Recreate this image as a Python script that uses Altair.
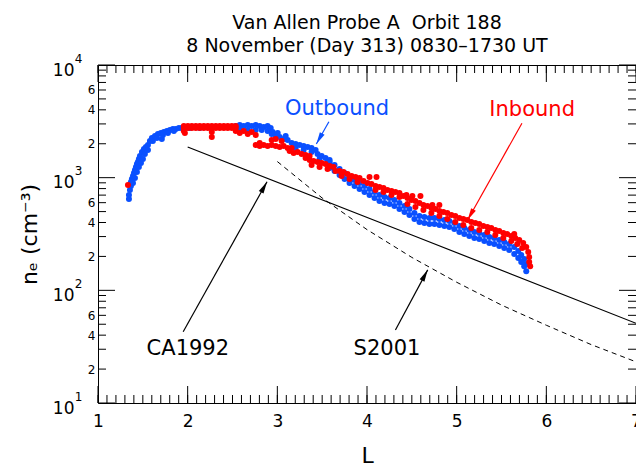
import math
import altair as alt
import pandas as pd

# ---------------- data ----------------
# Outbound (blue) samples: L-shell and electron density (cm^-3)
blue_L = (
    [1.345, 1.345, 1.356, 1.367, 1.367, 1.378, 1.390, 1.401, 1.412, 1.423,
     1.434, 1.445, 1.456, 1.468, 1.490, 1.512, 1.534, 1.557, 1.579, 1.601,
     1.635, 1.668, 1.701, 1.735, 1.768, 1.802, 1.835, 1.868, 1.902, 1.935]
    + [1.390, 1.412, 1.434, 1.456, 1.479, 1.501, 1.523, 1.557, 1.612, 1.657,
       1.712, 1.724, 1.780, 1.846]
    + [2.024, 2.135, 2.247, 2.358, 2.469]
    + [2.536, 2.581, 2.625, 2.670, 2.714, 2.759, 2.803, 2.848, 2.892, 2.926,
       2.581, 2.670, 2.759, 2.826, 2.892, 2.948]
    + [2.937, 2.982, 3.026, 3.071, 3.115, 3.004, 3.093, 3.160, 3.204, 3.249,
       3.293, 3.338, 3.382, 3.204, 3.293, 3.382, 3.427, 3.449, 3.494, 3.538,
       3.583, 3.471, 3.560]
    + [3.583, 3.638, 3.694, 3.750, 3.805, 3.861, 3.917, 3.972, 4.028, 4.084,
       4.139, 4.195, 4.251, 4.306, 4.362, 4.418, 4.473, 4.529, 4.585, 4.640,
       4.696, 4.752, 4.807, 4.863, 4.918, 4.974, 5.030, 5.085, 5.141, 5.197,
       5.252, 5.308, 5.364, 5.419, 5.475, 5.531, 5.586, 5.642, 5.687, 5.720,
       5.753, 5.776]
    + [3.583, 3.638, 3.694, 3.750, 3.805, 3.861, 3.917, 3.972, 4.028, 4.084,
       4.139, 4.195, 4.251, 4.306, 4.362, 4.418, 4.473, 4.529, 4.585, 4.640,
       4.696, 4.752, 4.807, 4.863, 4.918, 4.974, 5.030, 5.085, 5.141, 5.197,
       5.252, 5.308, 5.364, 5.419, 5.475, 5.531, 5.586, 5.642, 5.687, 5.720,
       5.753, 5.776]
)
blue_n = (
    [647, 702, 777, 843, 915, 973, 1034, 1100, 1169, 1243,
     1322, 1377, 1465, 1557, 1690, 1797, 1872, 1950, 2115, 2249,
     2343, 2441, 2492, 2543, 2596, 2649, 2704, 2704, 2759, 2759]
    + [896, 993, 1123, 1243, 1349, 1465, 1622, 1760, 2115, 2249,
       2204, 2392, 2492, 2596]
    + [2759, 2759, 2816, 2816, 2816]
    + [2874, 2934, 2874, 2934, 2874, 2934, 2874, 2816, 2874, 2759,
       2704, 2649, 2649, 2649, 2596, 2543]
    + [2441, 2343, 2296, 2204, 2159, 2492, 2343, 2031, 1990, 1950,
       1910, 1872, 1834, 1834, 1760, 1690, 1760, 1622, 1557, 1495,
       1435, 1465, 1377]
    + [1377, 1295, 1193, 1100, 1013, 953, 896, 843, 793, 746,
       702, 674, 660, 634, 596, 560, 527, 486, 457, 448,
       439, 439, 430, 421, 412, 396, 372, 357, 343, 329,
       323, 310, 297, 291, 280, 269, 258, 242, 223, 206,
       190, 171]
    + [1218, 1146, 1056, 973, 896, 843, 793, 746, 702, 660,
       621, 596, 584, 560, 527, 496, 466, 430, 404, 396,
       388, 388, 380, 372, 365, 350, 329, 316, 304, 291,
       286, 274, 263, 258, 247, 238, 228, 210, 194, 178,
       164, 148]
)

# Inbound (red) samples
red_L = (
    [1.334]
    + [1.957, 2.002, 2.046, 2.091, 2.135, 2.180, 2.225, 2.269, 2.314, 2.358,
       2.403, 2.447, 2.492, 2.536]
    + [1.957, 2.002, 2.046, 2.091, 2.135, 2.180, 2.225, 2.269, 2.314, 2.358,
       2.403, 2.447, 2.492, 2.536]
    + [1.957, 1.969, 2.269, 2.269]
    + [2.536, 2.581, 2.625, 2.670, 2.714, 2.759]
    + [2.759, 2.803, 2.848, 2.892, 2.937, 2.982, 3.026, 3.071, 3.115, 2.803,
       2.937, 2.982, 3.048]
    + [3.137, 3.182, 3.226, 3.271, 3.315, 3.360, 3.160]
    + [3.315, 3.360, 3.404, 3.449, 3.494, 3.538, 3.583, 3.627, 3.382, 3.471,
       3.560, 3.649]
    + [3.694, 3.738, 3.783, 3.828, 3.872, 3.917, 3.716, 3.805, 3.894, 4.028,
       4.106]
    + [3.961, 4.006, 4.050, 4.095, 4.139, 4.184, 4.228, 4.273, 4.317, 4.362,
       4.095, 4.184, 4.273, 4.362]
    + [4.406, 4.451, 4.495, 4.540, 4.585, 4.629, 4.674, 4.718, 4.763, 4.807,
       4.852, 4.896, 4.941, 4.985, 5.030, 5.074, 5.119, 5.163, 5.208, 5.252,
       5.297, 5.342, 5.386, 5.431, 5.475, 5.520, 5.564, 5.609, 5.653, 5.698,
       5.742, 5.776, 5.798, 5.809, 5.809, 5.820]
    + [4.451, 4.540, 4.629, 4.718, 4.807, 4.896, 4.985, 5.074, 5.163, 5.252,
       5.342, 5.431, 5.520, 5.609, 5.676, 5.731]
    + [4.506, 4.596, 4.440, 4.729, 4.807, 5.642]
)
red_n = (
    [860]
    + [2874] * 14
    + [2759] * 14
    + [2596, 2492, 2543, 2296]
    + [2596, 2492, 2596, 2441, 2543, 2392]
    + [1950, 1910, 1950, 1910, 1950, 1910, 1872, 1910, 1834, 2031,
       2159, 2204, 2115]
    + [1725, 1656, 1690, 1622, 1590, 1557, 1834]
    + [1495, 1435, 1406, 1377, 1349, 1322, 1269, 1243, 1295, 1243,
       1193, 1146]
    + [1146, 1123, 1078, 1034, 1013, 993, 1034, 973, 915, 1013,
       1013]
    + [934, 896, 878, 843, 826, 809, 777, 761, 746, 731,
       777, 746, 702, 674]
    + [687, 660, 634, 621, 596, 572, 560, 538, 527, 506,
       496, 486, 466, 457, 439, 430, 421, 404, 396, 388,
       372, 365, 357, 343, 336, 323, 316, 304, 291, 280,
       263, 242, 219, 198, 178, 164]
    + [584, 549, 516, 486, 457, 430, 404, 380, 357, 343,
       329, 310, 291, 274, 258, 238]
    + [687, 687, 702, 572, 572, 316]
)

# Model curves
ca_L = [2.0, 4.5, 7.0]
ca_n = [1872, 310, 51]
s_L = [3.0, 3.5, 4.0, 4.5, 5.0, 5.5, 6.0, 6.5, 7.0]
s_n = [1390, 660, 346, 196, 118, 74, 49, 33, 23.2]

# Annotations
ann_text = ["Outbound", "Inbound", "CA1992", "S2001"]
ann_L = [3.666, 5.842, 2.002, 4.223]
ann_n = [3598, 3527, 26.7, 26.7]
arrow_L0 = [3.575, 5.728, 1.950, 4.317]
arrow_n0 = [3139, 3037, 42.9, 44.5]
arrow_L1 = [3.435, 5.122, 2.885, 4.677]
arrow_n1 = [1990, 421, 920, 152]

# Axis ticks / labels
x_label_vals = [1, 2, 3, 4, 5, 6, 7]
x_minor_ticks = [round(1 + 0.1 * i, 1) for i in range(61)]
y_decades = [10, 100, 1000, 10000]
y_minor_ticks = [k * d for d in (10, 100, 1000) for k in range(2, 10)]
y_minor_labels = [20, 40, 60, 200, 400, 600, 2000, 4000, 6000]

BLUE = "#0a50ff"
RED = "#ff0000"
ann_color = [BLUE, RED, "black", "black"]

# ---------------- layout ----------------
W, H = 538, 338
FONT = "DejaVu Sans"
MAJOR, MINOR = 17, 8


def to_px(L, n):
    return (L - 1) / 6 * W, H - (math.log10(n) - 1) / 3 * H


arrow_angle = []
for a, b, c, d in zip(arrow_L0, arrow_n0, arrow_L1, arrow_n1):
    x0, y0 = to_px(a, b)
    x1, y1 = to_px(c, d)
    arrow_angle.append(math.degrees(math.atan2(x1 - x0, -(y1 - y0))) % 360)

blue_df = pd.DataFrame({"L": blue_L, "n": blue_n})
red_df = pd.DataFrame({"L": red_L, "n": red_n})
ca_df = pd.DataFrame({"L": ca_L, "n": ca_n})
s_df = pd.DataFrame({"L": s_L, "n": s_n})
ann_df = pd.DataFrame({"text": ann_text, "L": ann_L, "n": ann_n, "color": ann_color})
arr_df = pd.DataFrame({"L0": arrow_L0, "n0": arrow_n0, "L1": arrow_L1, "n1": arrow_n1,
                       "color": ann_color, "angle": arrow_angle})

x_scale = alt.Scale(domain=[1, 7], nice=False, zero=False)
y_scale = alt.Scale(type="log", domain=[10, 10000], nice=False)

# --- label axes (no ticks) ---
ax_x_label = alt.Axis(
    orient="bottom", values=x_label_vals, ticks=False, tickSize=0, domain=False,
    grid=False, labelFont=FONT, labelFontSize=17, labelColor="black", labelPadding=10,
    labelFlush=False, labelOverlap=False, format="d",
    titleFont=FONT, titleFontSize=22, titleFontWeight="normal", titleColor="black",
    titleBaseline="alphabetic", titleY=59,
)
ax_y_ten = alt.Axis(
    orient="left", values=y_decades, ticks=False, tickSize=0, domain=False, grid=False,
    labelExpr="'10'", labelFont=FONT, labelFontSize=17, labelPadding=24, labelOffset=5,
    labelColor="black", labelFlush=False, labelOverlap=False,
    titleFont=FONT, titleFontSize=22, titleFontWeight="normal", titleColor="black",
    titleAngle=270, titleAlign="center", titleBaseline="alphabetic", titleX=-62, titleY=H / 2,
)
ax_y_exp = alt.Axis(
    orient="left", values=y_decades, ticks=False, tickSize=0, domain=False, grid=False,
    labelExpr="toString(round(log(datum.value) / LN10))", labelFont=FONT, labelFontSize=12,
    labelPadding=16, labelOffset=-7, labelColor="black", labelFlush=False, labelOverlap=False,
)
ax_y_minor_label = alt.Axis(
    orient="left", values=y_minor_labels, ticks=False, tickSize=0, domain=False, grid=False,
    labelExpr="substring(toString(datum.value), 0, 1)", labelFont=FONT, labelFontSize=12,
    labelPadding=3, labelColor="black", labelFlush=False, labelOverlap=False,
)


# --- inward ticks on all four sides, placed through the scales ---
def x_ticks_layer(values, edge, length):
    inner = edge - length if edge > 0 else edge + length
    return alt.Chart(pd.DataFrame({"v": values})).mark_rule(
        color="black", strokeWidth=1
    ).encode(
        x=alt.X("v:Q", scale=x_scale, axis=None),
        y=alt.value(edge),
        y2=alt.value(inner),
    )


def y_ticks_layer(values, edge, length):
    inner = edge - length if edge > 0 else edge + length
    return alt.Chart(pd.DataFrame({"v": values})).mark_rule(
        color="black", strokeWidth=1
    ).encode(
        y=alt.Y("v:Q", scale=y_scale, axis=None),
        x=alt.value(edge),
        x2=alt.value(inner),
    )


tick_layers = [
    x_ticks_layer(x_minor_ticks, H, MINOR),
    x_ticks_layer(x_label_vals, H, MAJOR),
    x_ticks_layer(x_minor_ticks, 0, MINOR),
    x_ticks_layer(x_label_vals, 0, MAJOR),
    y_ticks_layer(y_minor_ticks, 0, MINOR),
    y_ticks_layer(y_decades, 0, MAJOR),
    y_ticks_layer(y_minor_ticks, W, MINOR),
    y_ticks_layer(y_decades, W, MAJOR),
]

blue_layer = alt.Chart(blue_df).mark_circle(size=36, opacity=1, color=BLUE).encode(
    x=alt.X("L:Q", scale=x_scale, axis=ax_x_label, title="L"),
    y=alt.Y("n:Q", scale=y_scale, axis=ax_y_ten, title="nₑ (cm⁻³)"),
)
red_layer = alt.Chart(red_df).mark_circle(size=36, opacity=1, color=RED).encode(
    x=alt.X("L:Q", scale=x_scale, axis=None),
    y=alt.Y("n:Q", scale=y_scale, axis=ax_y_exp, title=None),
)
ca_layer = alt.Chart(ca_df).mark_line(color="black", strokeWidth=1.2).encode(
    x=alt.X("L:Q", scale=x_scale, axis=None),
    y=alt.Y("n:Q", scale=y_scale, axis=ax_y_minor_label, title=None),
)
s_layer = alt.Chart(s_df).mark_line(color="black", strokeWidth=1, strokeDash=[5, 4]).encode(
    x=alt.X("L:Q", scale=x_scale, axis=None),
    y=alt.Y("n:Q", scale=y_scale, axis=None),
)
arrow_lines = alt.Chart(arr_df).mark_rule(strokeWidth=1.2).encode(
    x=alt.X("L0:Q", scale=x_scale, axis=None),
    y=alt.Y("n0:Q", scale=y_scale, axis=None),
    x2="L1:Q",
    y2="n1:Q",
    color=alt.Color("color:N", scale=None),
)
arrow_heads = alt.Chart(arr_df).mark_point(
    shape="M0,0 L0.45,2 L-0.45,2 Z", size=144, filled=True, opacity=1, strokeWidth=0
).encode(
    x=alt.X("L1:Q", scale=x_scale, axis=None),
    y=alt.Y("n1:Q", scale=y_scale, axis=None),
    angle=alt.Angle("angle:Q", scale=None),
    color=alt.Color("color:N", scale=None),
)
labels = alt.Chart(ann_df).mark_text(
    font=FONT, fontSize=21, align="center", baseline="alphabetic"
).encode(
    x=alt.X("L:Q", scale=x_scale, axis=None),
    y=alt.Y("n:Q", scale=y_scale, axis=None),
    text="text:N",
    color=alt.Color("color:N", scale=None),
)

chart = alt.layer(
    blue_layer, red_layer, ca_layer, s_layer, arrow_lines, arrow_heads, labels,
    *tick_layers
).resolve_axis(
    x="independent", y="independent"
).properties(
    width=W,
    height=H,
    padding={"left": 98, "top": 65, "right": 0, "bottom": 63},
    autosize=alt.AutoSizeParams(type="none"),
    background="white",
    title=alt.TitleParams(
        text=["Van Allen Probe A \u00a0Orbit 188", "8 November (Day 313) 0830–1730 UT"],
        font=FONT, fontSize=19, fontWeight="normal", color="black",
        anchor="middle", offset=10, lineHeight=23, dy=14,
    ),
).configure_view(
    stroke="black", strokeWidth=1
)

chart.save("out.html", embed_options={"renderer": "svg", "actions": False})
